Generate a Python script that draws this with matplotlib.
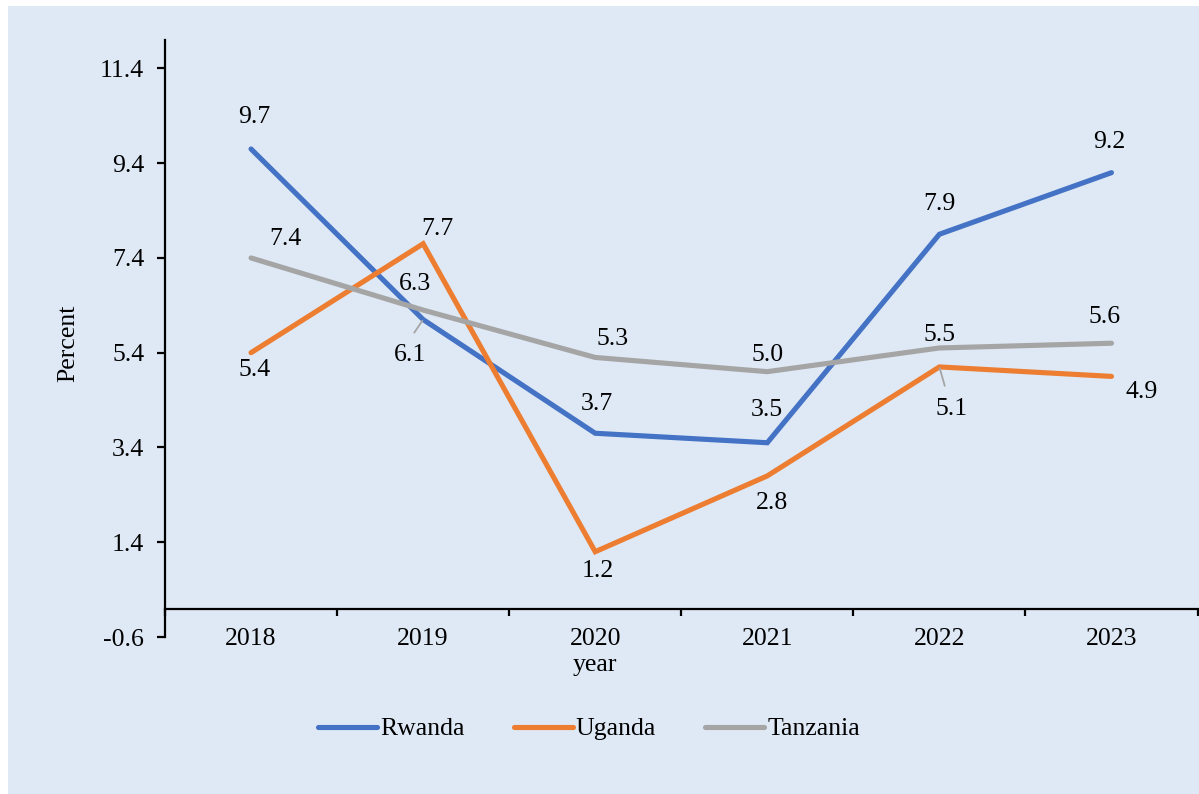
import matplotlib
matplotlib.use("Agg")
import matplotlib.pyplot as plt
from matplotlib.patches import Rectangle

# ---- data ----
years = ["2018", "2019", "2020", "2021", "2022", "2023"]
rwanda = [9.7, 6.1, 3.7, 3.5, 7.9, 9.2]
uganda = [5.4, 7.7, 1.2, 2.8, 5.1, 4.9]
tanzania = [7.4, 6.3, 5.3, 5.0, 5.5, 5.6]
y_ticks = [-0.6, 1.4, 3.4, 5.4, 7.4, 9.4, 11.4]
y_tick_labels = ["-0.6", "1.4", "3.4", "5.4", "7.4", "9.4", "11.4"]

# ---- style ----
W, H = 1199, 794
FS = 18.5
FONT = "Liberation Serif"
plt.rcParams["font.family"] = [FONT, "DejaVu Serif"]
BG = "#DEE9F5"
C_RW, C_UG, C_TZ = "#4472C4", "#ED7D31", "#A5A5A5"

# label offsets in pixels (dx right, dy down); leader flag
off_rw = [(3, -32), (-13, 35), (2, -29), (0, -33), (0, -30), (-2, -31)]
off_ug = [(4, 17), (14, -15), (3, 19), (5, 27), (12, 42), (30, 16)]
off_tz = [(34, -19), (-8, -26), (17, -18), (0, -17), (0, -13), (-7, -26)]
lead_rw = [False, True, False, False, False, False]
lead_ug = [False, False, False, False, True, False]
lead_tz = [False] * 6

fig = plt.figure(figsize=(W / 100, H / 100), dpi=100, facecolor="white")
bgrect = Rectangle((8 / W, 0), 1 - 8 / W, 1 - 6 / H, transform=fig.transFigure,
                   facecolor=BG, edgecolor="none", zorder=-10)
fig.add_artist(bgrect)

left, right = 165 / W, 1197.5 / W
bottom, top = 1 - 637 / H, 1 - 40 / H
ax = fig.add_axes([left, bottom, right - left, top - bottom])
ax.patch.set_alpha(0)

x = list(range(len(years)))
lw = 3.7
for vals, col in [(rwanda, C_RW), (uganda, C_UG), (tanzania, C_TZ)]:
    ax.plot(x, vals, color=col, lw=lw, solid_capstyle="round", solid_joinstyle="miter", zorder=3)

ax.set_xlim(-0.5, 5.5)
ax.set_ylim(-0.6, 12.0)

for s in ["top", "right"]:
    ax.spines[s].set_visible(False)
ax.spines["bottom"].set_position(("data", 0))
for s in ["left", "bottom"]:
    ax.spines[s].set_linewidth(1.6)
    ax.spines[s].set_color("black")

ax.set_yticks(y_ticks)
ax.set_yticklabels(y_tick_labels)
ax.tick_params(axis="y", direction="out", length=6, width=1.6, pad=9, labelsize=FS)

ax.set_xticks([i - 0.5 for i in range(len(years) + 1)])
ax.set_xticklabels([])
ax.set_xticks(x, minor=True)
ax.set_xticklabels(years, minor=True)
ax.tick_params(axis="x", which="major", direction="out", length=5, width=1.6)
ax.tick_params(axis="x", which="minor", length=0, pad=14, labelsize=FS)

px = 0.72
for vals, offs, leads in [(rwanda, off_rw, lead_rw), (uganda, off_ug, lead_ug), (tanzania, off_tz, lead_tz)]:
    for i, (v, (dx, dy), ld) in enumerate(zip(vals, offs, leads)):
        kw = {}
        if ld:
            kw["arrowprops"] = dict(arrowstyle="-", color="#A5A5A5", lw=1.3,
                                    shrinkA=7, shrinkB=1, relpos=(0.4, 1.0))
        ax.annotate(f"{v:.1f}", (i, v), xytext=(dx * px, -dy * px), textcoords="offset points",
                    ha="center", va="center", fontsize=FS, color="black", zorder=5, **kw)

fig.text(68 / W, 1 - 343 / H, "Percent", rotation=90, ha="center", va="center", fontsize=FS)
fig.text(595 / W, 1 - 665 / H, "year", ha="center", va="center", fontsize=FS)

handles = [plt.Line2D([], [], color=c, lw=lw, solid_capstyle="round") for c in (C_RW, C_UG, C_TZ)]
fig.legend(handles, ["Rwanda", "Uganda", "Tanzania"], loc="center",
           bbox_to_anchor=(589 / W, 1 - 729 / H), ncol=3, frameon=False, fontsize=FS,
           handlelength=2.3, handletextpad=0.12, columnspacing=1.9)

fig.savefig("out.png", dpi=100, facecolor="white")
